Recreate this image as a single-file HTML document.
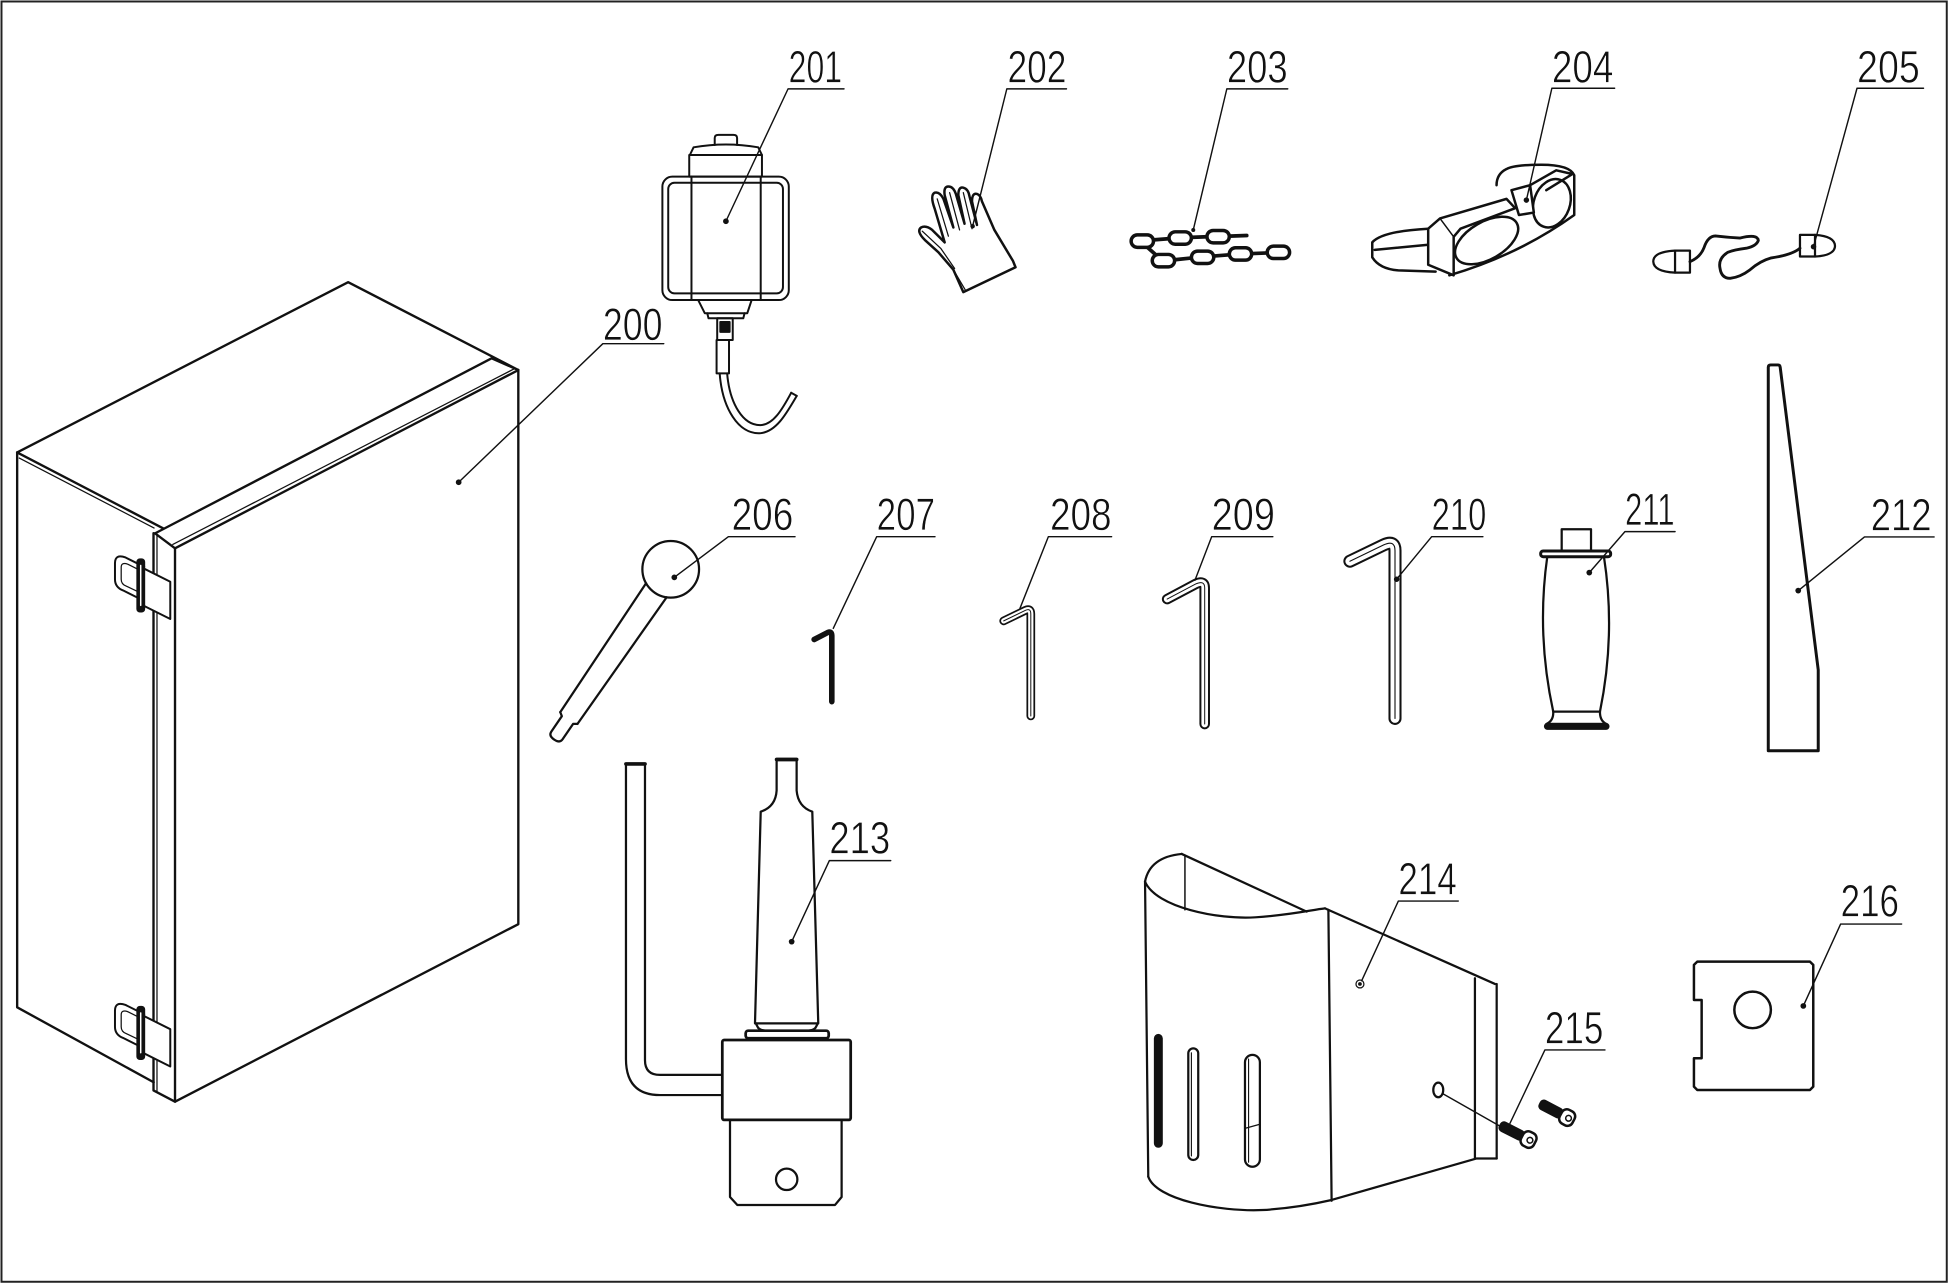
<!DOCTYPE html>
<html>
<head>
<meta charset="utf-8">
<style>
html,body{margin:0;padding:0;background:#fff;overflow:hidden;}
svg{display:block;}
.l{font-family:"Liberation Sans","DejaVu Sans",sans-serif;font-size:36.5px;fill:#111;stroke:#fff;stroke-width:0.55px;}
</style>
</head>
<body>
<svg width="1949" height="1284" viewBox="0 0 1568 1033" preserveAspectRatio="none" xmlns="http://www.w3.org/2000/svg">
<rect x="0" y="0" width="1568" height="1033" fill="#fff"/>
<rect x="1.2" y="1.2" width="1565" height="1030" fill="none" stroke="#222" stroke-width="1.6"/>

<g fill="none" stroke="#111" stroke-linejoin="round" stroke-linecap="round">

<!-- ===== 200 BOX ===== -->
<g stroke-width="1.9">
  <path d="M13.8,364 L280.1,227 L417,297.7"/>
  <path d="M13.8,364 L131.4,425.1"/>
  <path d="M15.5,368.5 L124,424.8" stroke-width="1"/>
  <path d="M13.8,364 L13.8,810.4 L123.6,870.7"/>
  <path d="M124.7,429.1 L395.5,288.3 L417,297.7"/>
  <path d="M124.7,429.1 L140.8,441.1 L417,297.7"/>
  <path d="M139,438 L414.5,296.3" stroke-width="1"/>
  <path d="M123.5,429 L123.5,877.3 L140.8,886.3"/>
  <path d="M126.3,431 L126.3,878.5" stroke-width="1"/>
  <path d="M140.8,441.1 L140.8,886.3 L417,743.5 L417,297.7"/>
</g>
<g id="hinge" stroke-width="1.6">
  <path d="M116,456 L101,448.5 Q92.5,445.5 92.5,453 L92.5,466 Q92.5,472.5 99,475 L111,481"/>
  <path d="M116,460.5 L103,454 Q97.5,452 97.5,456.5 L97.5,466 Q97.5,470 101.5,471.5 L111,476" stroke-width="1"/>
  <path d="M113,456 L137,468 L137,498 L113,486 Z" fill="#fff"/>
  <rect x="110.5" y="450" width="5.5" height="42" rx="2" fill="#111"/>
  <line x1="113.2" y1="455" x2="113.2" y2="487" stroke="#fff" stroke-width="1.2"/>
</g>
<use href="#hinge" transform="translate(0,360)"/>

<!-- ===== 201 BOTTLE ===== -->
<g stroke-width="1.6">
  <path d="M575,116.7 L575,111 Q575,108.5 578,108.5 L590,108.5 Q593,108.5 593,111 L593,116.7"/>
  <path d="M555,124.7 L558,118.5 Q584,114 610,118.5 L613,124.7 Z"/>
  <rect x="554.5" y="124.7" width="58.5" height="17.4"/>
  <rect x="532.9" y="142.1" width="101.7" height="99.3" rx="8"/>
  <rect x="537.6" y="147" width="92.3" height="89" rx="5"/>
  <line x1="556.3" y1="142.1" x2="556.3" y2="241.4"/>
  <line x1="612" y1="142.1" x2="612" y2="241.4"/>
  <path d="M561.7,241.4 L567,252 L601.2,252 L604.7,241.4"/>
  <path d="M569,252 L570,256 L598,256 L599,252"/>
  <rect x="577" y="256" width="12.5" height="17.5"/>
  <rect x="579.5" y="259" width="7.5" height="8" fill="#111"/>
  <rect x="576.5" y="273.5" width="10" height="26.9"/>
  <path d="M579,300.4 C581,328 594,350 612,348.5 C625,347 633,332 641,318.5"/>
  <path d="M585,300.4 C587,325 598,342.5 612,342 C622,341.5 629,330 636.5,316"/>
  <path d="M636.5,316 L641,318.5"/>
</g>

<!-- ===== 202 GLOVE ===== -->
<g stroke-width="2">
  <path d="M775,235 L767,217 L755,203 L744,193 Q737,186 741,183 Q745,181 750,185 L760,195 L752,168 Q748,157 752,155 Q756,154 759,160 L767,183 L760,157 Q759,150 763,150 Q767,150 769,156 L776,180 L771,157 Q771,150 775,151 Q779,152 780,158 L786,181 L782,162 Q782,155 786,156 Q789,157 790,162 L800,185 L815,210 L817,215 Z" fill="#fff"/>
  <path d="M742,186 L757,200 L768,216" stroke-width="1"/>
  <path d="M754,160 L763,190" stroke-width="1"/>
  <path d="M764,155 L772,185" stroke-width="1"/>
  <path d="M775,155 L782,184" stroke-width="1"/>
  <path d="M767,217 L777,234" stroke-width="1"/>
</g>

<!-- ===== 203 CHAIN ===== -->
<g stroke-width="2.8">
  <path d="M928,193 L941,192 M958,191 L971,190.5 M989,190 L1003,189.5 M945,209 L959,207.5 M976,206 L989,205 M1007,204 L1020,203.5 M922,198 L931,206" stroke-width="3"/>
  <rect x="910" y="189" width="18" height="10" rx="5" fill="#fff"/>
  <rect x="940.5" y="186.5" width="18" height="10" rx="5" fill="#fff"/>
  <rect x="971" y="185.4" width="18" height="10" rx="5" fill="#fff"/>
  <rect x="927" y="204.7" width="18" height="10" rx="5" fill="#fff"/>
  <rect x="958.5" y="202" width="18" height="10" rx="5" fill="#fff"/>
  <rect x="989" y="199.3" width="18" height="10" rx="5" fill="#fff"/>
  <rect x="1019.5" y="198" width="18" height="10" rx="5" fill="#fff"/>
</g>

<!-- ===== 204 GOGGLES ===== -->
<g stroke-width="2">
  <path d="M1149,184 Q1112,186 1104,195 L1104,207 Q1110,216.5 1125,217.5 L1155,218.5"/>
  <path d="M1106,201 L1148,197"/>
  <path d="M1166,221.5 Q1222,205 1266.5,173 L1266.5,141 Q1263,132.5 1240,132.5 Q1218,132.5 1212,136 Q1204,140 1204,149"/>
  <path d="M1149,184 L1158.5,175.7 L1212,160 L1219,167.5 L1175,184 L1169.5,190.5 L1169.5,221.5 L1149,213 Z" fill="#fff"/>
  <path d="M1158.5,175.7 L1169.5,190.5" stroke-width="1.2"/>
  <ellipse cx="1196" cy="193.5" rx="28" ry="15" transform="rotate(-30 1196 193.5)" fill="#fff"/>
  <ellipse cx="1248.5" cy="163.5" rx="14.5" ry="20" transform="rotate(20 1248.5 163.5)" fill="#fff"/>
  <path d="M1216,153 L1231,149 L1234,171 L1222,173 Z" fill="#fff"/>
  <path d="M1231,149 L1252,137 L1265,140 L1244,153"/>
</g>

<!-- ===== 205 EARPLUGS ===== -->
<g stroke-width="1.8">
  <rect x="1347.6" y="201.6" width="12" height="17.7"/>
  <path d="M1347.6,201.6 Q1330,202.5 1330.1,210.5 Q1330.5,218.5 1347.6,219.3"/>
  <rect x="1448.1" y="189" width="12.1" height="17.4"/>
  <path d="M1460.2,189 Q1476,190 1476.3,197.9 Q1476,205.5 1460.2,206.4"/>
  <path d="M1359.6,210.5 Q1368,207 1371,199 Q1374,190 1380,189.8 Q1390,191 1400,191.5 Q1414,188 1414.6,193.5 Q1413,198 1405,199.7 Q1395,201 1390,203 Q1382,208 1383.8,216 Q1385,224 1392,223.9 Q1400,223 1408,217 Q1416,210 1425,207.5 Q1442,205 1448.1,199.7" stroke-width="2.3"/>
</g>

<!-- ===== 206 ===== -->
<g stroke-width="1.8">
  <circle cx="539.6" cy="458" r="22.8" fill="#fff"/>
  <g transform="translate(539.6,458) rotate(34.4)">
    <path d="M-10,20.5 L-8.4,145 M10,20.5 L8.4,145"/>
    <path d="M-8.4,145 L-5.5,147 L-5.5,162 Q-5.5,166 0,166 Q5.5,166 5.5,162 L5.5,147 L8.4,145"/>
  </g>
</g>

<!-- ===== 207-210 HEX KEYS ===== -->
<path d="M655,514.5 L666,508.8 Q669.2,507.5 669.2,511.5 L669.2,564.5" stroke-width="4.5"/>

<path d="M807.5,499.5 L825,491 Q829.3,489 829.3,494 L829.3,576" stroke-width="7"/>
<path d="M807.5,499.5 L825,491 Q829.3,489 829.3,494 L829.3,576" stroke="#fff" stroke-width="4.2"/>
<path d="M807.5,499.5 L825,491 Q829.3,489 829.3,494 L829.3,576" stroke-width="0.8"/>

<path d="M939,482 L962,469.8 Q969.2,466.5 969.2,473 L969.2,582.5" stroke-width="8.5"/>
<path d="M939,482 L962,469.8 Q969.2,466.5 969.2,473 L969.2,582.5" stroke="#fff" stroke-width="5.3"/>
<path d="M939,482 L962,469.8 Q969.2,466.5 969.2,473 L969.2,582.5" stroke-width="0.8"/>

<path d="M1086,451.5 L1113,438.5 Q1122.3,434 1122.3,443 L1122.3,578" stroke-width="10.5"/>
<path d="M1086,451.5 L1113,438.5 Q1122.3,434 1122.3,443 L1122.3,578" stroke="#fff" stroke-width="7.2"/>
<path d="M1086,451.5 L1113,438.5 Q1122.3,434 1122.3,443 L1122.3,578" stroke-width="0.9"/>

<!-- ===== 211 GRIP ===== -->
<g stroke-width="1.8">
  <rect x="1256.4" y="425.8" width="23.6" height="17.5"/>
  <rect x="1239.5" y="443.3" width="56.3" height="4.6" rx="2" stroke-width="2.4" fill="#fff"/>
  <path d="M1244.8,447.9 Q1236,510 1249.6,572.5 L1287.2,572.5 Q1300,510 1290.4,447.9"/>
  <path d="M1249.6,572.5 Q1250,580 1244,582.5 L1292.5,582.5 Q1287,580 1287.2,572.5"/>
  <rect x="1243" y="582.5" width="51" height="3.8" rx="1.9" fill="#111"/>
</g>

<!-- ===== 212 WEDGE ===== -->
<path d="M1422.6,604 L1422.6,295.5 Q1422.6,293.6 1424.5,293.6 L1430.5,293.6 Q1432,293.6 1432.2,295.5 L1462.8,539 L1462.8,604 Z" stroke-width="2.4"/>

<!-- ===== 213 TOOL ===== -->
<g stroke-width="1.8">
  <path d="M503.6,614.6 L503.6,852 Q503.6,881 531,881 L581.1,881"/>
  <path d="M518.9,614.6 L518.9,853 Q518.9,864.8 531,864.8 L581.1,864.8"/>
  <path d="M503.6,614.6 L518.9,614.6" stroke-width="3"/>
  <path d="M624.8,610.6 L640.9,610.6 L640.9,636 Q642,649 653.5,653 L658.3,823.3 L607.4,823.3 L612,653 Q624,649 624.8,636 Z" fill="#fff"/>
  <path d="M624.8,611 L640.9,611" stroke-width="3"/>
  <path d="M608,823.3 L610,827 Q612,829 616,829.2 L650,829.2 Q654,829 656,827 L658,823.3"/>
  <rect x="599.9" y="829.2" width="66.8" height="6.1" rx="2" stroke-width="2.2" fill="#fff"/>
  <rect x="581.1" y="836.7" width="103.3" height="64.3" rx="1.5" stroke-width="2.2" fill="#fff"/>
  <path d="M587.3,901 L587.3,963 L593.2,969.4 L671.8,969.4 L677.1,963 L677.1,901"/>
  <circle cx="632.9" cy="948.8" r="8.6"/>
</g>

<!-- ===== 214 BRACKET ===== -->
<g stroke-width="1.8">
  <path d="M921.2,709.3 Q925,689.5 950.7,687"/>
  <path d="M950.7,687 L1051.2,733.4"/>
  <path d="M953.3,688 L953.3,732" stroke-width="1.2"/>
  <path d="M921.2,709.3 C930,730 980,740 1010,738 C1040,736 1055,732 1066,730.8"/>
  <path d="M921.2,709.3 L923.8,946.6"/>
  <path d="M923.8,946.6 C930,965 980,975 1016,973.5 C1040,972 1060,968 1071.3,965.4"/>
  <path d="M1068.7,732 L1071.3,966"/>
  <path d="M1066,730.8 L1202.7,791.6"/>
  <path d="M1186.6,787 L1186.6,932"/>
  <path d="M1204.1,791.6 L1204.1,932"/>
  <path d="M1071.3,965.4 L1188,932 L1204.1,932"/>
  <rect x="929.2" y="832.7" width="5.4" height="89.8" rx="2.7" fill="#111"/>
  <rect x="956" y="843.4" width="8" height="89.8" rx="4"/>
  <line x1="958.5" y1="847" x2="958.5" y2="930" stroke-width="0.9"/>
  <rect x="1001.6" y="848.7" width="12" height="90" rx="6"/>
  <line x1="1004.5" y1="852" x2="1004.5" y2="935" stroke-width="0.9"/>
  <line x1="1001.6" y1="907.8" x2="1013.6" y2="904.5" stroke-width="1"/>
  <ellipse cx="1157.1" cy="876.9" rx="4" ry="5.9"/>
  <circle cx="1094.1" cy="791.6" r="3.2" stroke-width="1"/>
  <circle cx="1094.1" cy="791.6" r="1.2" fill="#111" stroke-width="0.6"/>
</g>

<!-- ===== 215 SCREWS ===== -->
<g transform="translate(1206.8,905.1) rotate(27)">
  <rect x="0" y="-4" width="21" height="8" rx="3" fill="#111" stroke-width="1"/>
  <rect x="20" y="-6.3" width="11.5" height="12.6" rx="4.5" fill="#fff" stroke-width="2"/>
  <circle cx="27" cy="0" r="2.3" stroke-width="1.2"/>
</g>
<g transform="translate(1238.9,887.6) rotate(27.7)">
  <rect x="0" y="-4" width="20" height="8" rx="3" fill="#111" stroke-width="1"/>
  <rect x="19" y="-6.3" width="11.5" height="12.6" rx="4.5" fill="#fff" stroke-width="2"/>
  <circle cx="26" cy="0" r="2.3" stroke-width="1.2"/>
</g>

<!-- ===== 216 PLATE ===== -->
<g stroke-width="2">
  <path d="M1365.5,773.6 L1456.1,773.6 L1458.8,776.3 L1458.8,874.2 L1456.1,876.9 L1365.5,876.9 L1362.8,874.2 L1362.8,851.4 L1369,851.4 L1369,804.5 L1362.8,804.5 L1362.8,776.3 Z"/>
  <circle cx="1410" cy="812.5" r="14.7"/>
</g>

<!-- ===== LEADERS & UNDERLINES ===== -->
<g stroke-width="1.15" stroke="#111">
  <path d="M534,276.5 L485,276.5 L369,388"/>
  <path d="M679,71.5 L634,71.5 L584,178"/>
  <path d="M858,71.5 L810,71.5 L782.5,182"/>
  <path d="M1036,71.5 L987,71.5 L960,185"/>
  <path d="M1299,71 L1248.5,71 L1228,161"/>
  <path d="M1547.5,71 L1494,71 L1459,198.5"/>
  <path d="M639.6,431.8 L586,431.8 L542.5,464.5"/>
  <path d="M752.2,431.8 L705.3,431.8 L670.4,505.5"/>
  <path d="M894.3,431.8 L843.4,431.8 L820.6,489.4"/>
  <path d="M1024,431.8 L974.8,431.8 L961.4,466.7"/>
  <path d="M1193,431.8 L1151.8,431.8 L1123.6,466"/>
  <path d="M1347.6,427.7 L1307.3,427.7 L1278.6,460.7"/>
  <path d="M1556,432 L1500,432 L1446.7,475.2"/>
  <path d="M716.6,692.4 L667.2,692.4 L636.9,757.6"/>
  <path d="M1173.2,724.9 L1125,724.9 L1095.5,789"/>
  <path d="M1291.2,844.7 L1242.9,844.7 L1214.8,903.7"/>
  <path d="M1529.9,743.4 L1480.8,743.4 L1450.8,809.3"/>
  <path d="M1161,880 L1212,909"/>
</g>
<g fill="#111" stroke="none">
  <circle cx="369" cy="388" r="2.3"/>
  <circle cx="584" cy="178" r="2.3"/>
  <circle cx="782.5" cy="182" r="1.8"/>
  <circle cx="960" cy="185" r="1.6"/>
  <circle cx="1228" cy="161" r="2.2"/>
  <circle cx="1459" cy="198.5" r="2.2"/>
  <circle cx="542.5" cy="464.5" r="2.3"/>
  <circle cx="1123.6" cy="466" r="2.2"/>
  <circle cx="1278.6" cy="460.7" r="2.3"/>
  <circle cx="1446.7" cy="475.2" r="2.3"/>
  <circle cx="636.9" cy="757.6" r="2.3"/>
  <circle cx="1450.8" cy="809.3" r="2.3"/>
</g>
</g>

<!-- ===== LABELS ===== -->
<g class="l">
  <text x="485" y="273.5" textLength="48" lengthAdjust="spacingAndGlyphs">200</text>
  <text x="634.5" y="66.5" textLength="43" lengthAdjust="spacingAndGlyphs">201</text>
  <text x="810.5" y="66.5" textLength="47.5" lengthAdjust="spacingAndGlyphs">202</text>
  <text x="987" y="66.5" textLength="49" lengthAdjust="spacingAndGlyphs">203</text>
  <text x="1248.5" y="66.5" textLength="49.5" lengthAdjust="spacingAndGlyphs">204</text>
  <text x="1494" y="66.5" textLength="50.5" lengthAdjust="spacingAndGlyphs">205</text>
  <text x="588.6" y="426.4" textLength="49.6" lengthAdjust="spacingAndGlyphs">206</text>
  <text x="705.3" y="426.4" textLength="47" lengthAdjust="spacingAndGlyphs">207</text>
  <text x="844.7" y="426.4" textLength="49.6" lengthAdjust="spacingAndGlyphs">208</text>
  <text x="974.8" y="426.4" textLength="50.9" lengthAdjust="spacingAndGlyphs">209</text>
  <text x="1151.8" y="426.4" textLength="44" lengthAdjust="spacingAndGlyphs">210</text>
  <text x="1307.3" y="422.4" textLength="40" lengthAdjust="spacingAndGlyphs">211</text>
  <text x="1505" y="426.8" textLength="49" lengthAdjust="spacingAndGlyphs">212</text>
  <text x="667.2" y="686.5" textLength="49" lengthAdjust="spacingAndGlyphs">213</text>
  <text x="1125" y="719.5" textLength="47" lengthAdjust="spacingAndGlyphs">214</text>
  <text x="1242.9" y="839.4" textLength="47" lengthAdjust="spacingAndGlyphs">215</text>
  <text x="1480.8" y="737.4" textLength="47" lengthAdjust="spacingAndGlyphs">216</text>
</g>
</svg>
</body>
</html>
